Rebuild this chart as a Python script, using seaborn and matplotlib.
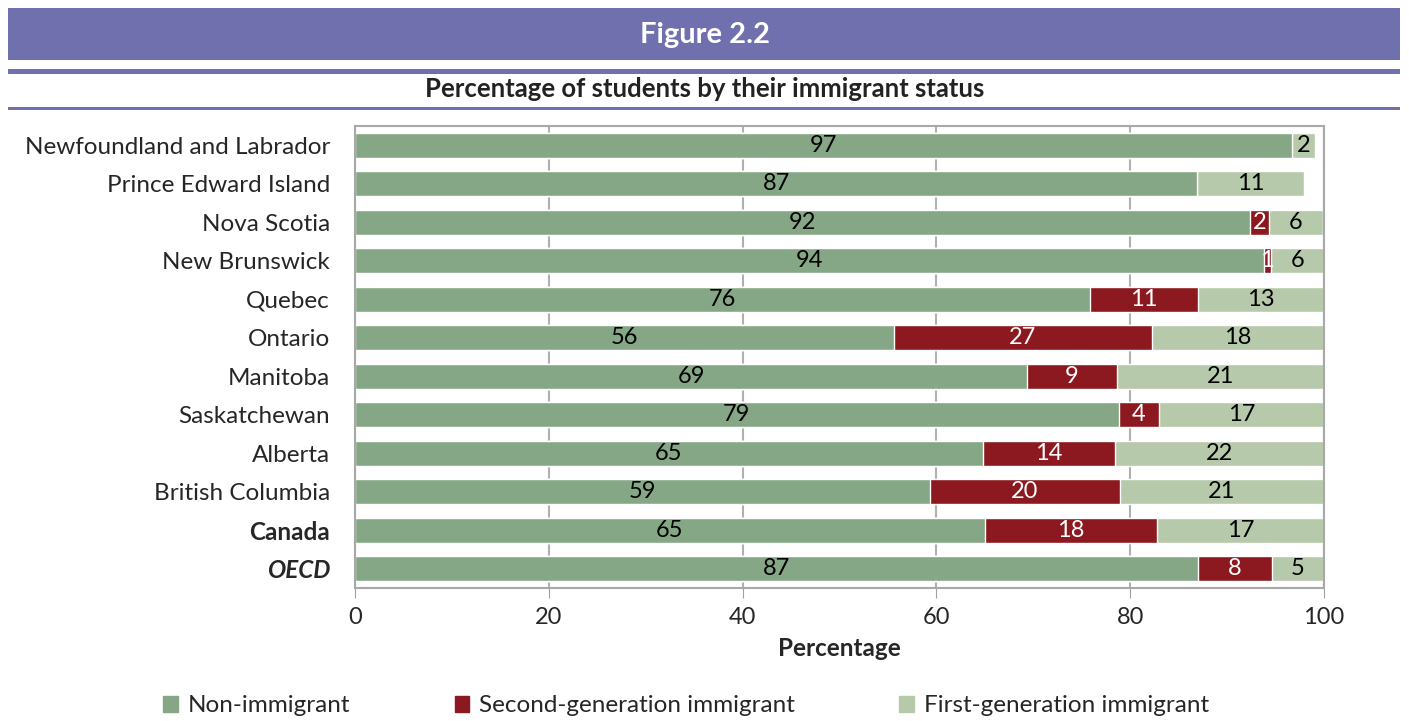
import matplotlib
matplotlib.use("Agg")
import matplotlib.pyplot as plt
from matplotlib.patches import Rectangle, Patch
import numpy as np
import pandas as pd
import seaborn as sns

# data (percent of students)
regions = ["Newfoundland and Labrador", "Prince Edward Island", "Nova Scotia",
           "New Brunswick", "Quebec", "Ontario", "Manitoba", "Saskatchewan",
           "Alberta", "British Columbia", "Canada", "OECD"]
non_immigrant = [96.7, 86.9, 92.4, 93.8, 75.9, 55.6, 69.4, 78.8, 64.8, 59.3, 65.0, 87.0]
second_gen = [0.0, 0.0, 1.9, 0.7, 11.1, 26.6, 9.2, 4.2, 13.6, 19.6, 17.8, 7.6]
first_gen = [2.4, 11.0, 5.6, 5.5, 13.0, 17.8, 21.4, 17.0, 21.6, 21.1, 17.2, 5.4]

series_names = ["Non-immigrant", "Second-generation immigrant", "First-generation immigrant"]
colors = ["#86A785", "#8B191F", "#B7C9AB"]
purple = "#7170AE"

df = pd.DataFrame({"region": regions, "non": non_immigrant,
                   "second": second_gen, "first": first_gen})
df["cum1"] = df["non"]
df["cum2"] = df["non"] + df["second"]
df["cum3"] = df["cum2"] + df["first"]

sns.set_style("white")
plt.rcParams["font.family"] = ["Lato", "DejaVu Sans"]

fig = plt.figure(figsize=(14.09, 7.21), dpi=100)
ax = fig.add_axes([355 / 1409, 1 - 588 / 721, 969 / 1409, 462 / 721])

# stacked bars drawn as overlapping cumulative totals
for col, c in zip(["cum3", "cum2", "cum1"], colors[::-1]):
    sns.barplot(data=df, x=col, y="region", color=c, orient="h",
                width=0.66, ax=ax, saturation=1, zorder=2)

# value labels in the middle of each segment
for i, row in df.iterrows():
    starts = [0, row["cum1"], row["cum2"]]
    vals = [row["non"], row["second"], row["first"]]
    for k in range(3):
        if vals[k] <= 0:
            continue
        ax.text(starts[k] + vals[k] / 2, i, f"{round(vals[k])}",
                ha="center", va="center", fontsize=17,
                color="white" if k == 1 else "black", zorder=5)

ax.set_xlim(0, 100)
ax.set_ylim(11.5, -0.5)
ax.set_xticks(range(0, 101, 20))
ax.xaxis.grid(True, color="#B0B0B0", linewidth=1.5, zorder=0)
ax.set_axisbelow(True)
ax.set_xlabel("Percentage", fontsize=17.5, fontweight="bold", labelpad=6)
ax.set_ylabel("")
ax.tick_params(axis="x", labelsize=17, length=7, color="#A0A0A0", pad=7, bottom=True)
ax.tick_params(axis="y", labelsize=17.5, length=0, pad=18)
for s in ax.spines.values():
    s.set_color("#A8A8A8")
    s.set_linewidth(1.5)

labels = ax.get_yticklabels()
labels[-2].set_fontweight("bold")
labels[-1].set_fontweight("bold")
labels[-1].set_fontstyle("italic")

# header bands
fig.add_artist(Rectangle((8 / 1409, 1 - 60 / 721), 1392 / 1409, 52 / 721,
                         transform=fig.transFigure, color=purple, lw=0))
fig.add_artist(Rectangle((8 / 1409, 1 - 74 / 721), 1392 / 1409, 5 / 721,
                         transform=fig.transFigure, color=purple, lw=0))
fig.add_artist(Rectangle((8 / 1409, 1 - 110 / 721), 1392 / 1409, 3 / 721,
                         transform=fig.transFigure, color=purple, lw=0))
fig.text(0.5, 1 - 35 / 721, "Figure 2.2", ha="center", va="center",
         fontsize=21, fontweight="bold", color="white")
fig.text(0.5, 1 - 89 / 721, "Percentage of students by their immigrant status",
         ha="center", va="center", fontsize=18.5, fontweight="bold", color="#222222")

handles = [Patch(color=c, label=n) for c, n in zip(colors, series_names)]
fig.legend(handles=handles, loc="center", bbox_to_anchor=(0.487, 1 - 706 / 721),
           ncol=3, frameon=False, fontsize=17.5, handlelength=0.6, handleheight=0.6,
           handletextpad=0.4, columnspacing=4.3)

fig.savefig("out.png", dpi=100)
